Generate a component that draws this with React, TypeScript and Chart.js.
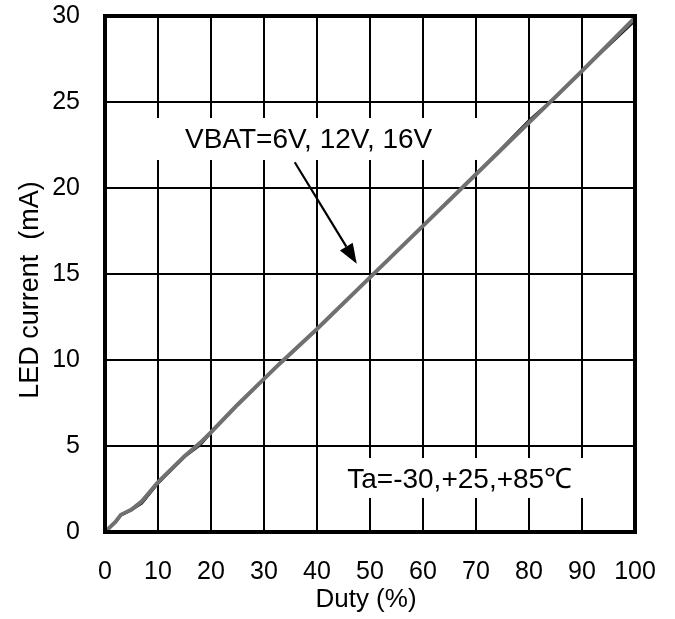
import { useEffect, useRef } from 'react';
import { Chart, registerables } from 'chart.js';

Chart.register(...registerables);

// ---- data ----
const duty = [0, 2, 3, 5, 7, 10, 15, 18, 20, 25, 30, 33, 40, 50, 60, 70, 80, 85, 90, 100];
const led6V = [0, 0.55, 0.95, 1.25, 1.65, 2.8, 4.35, 5.05, 5.75, 7.35, 8.9, 9.8, 11.8, 14.8, 17.8, 20.8, 23.95, 25.3, 26.8, 29.7];
const led12V = [0, 0.6, 1.0, 1.3, 1.7, 2.85, 4.4, 5.1, 5.8, 7.4, 8.9, 9.75, 11.8, 14.8, 17.8, 20.8, 23.9, 25.25, 26.8, 29.8];
const led16V = [0, 0.6, 1.0, 1.3, 1.8, 2.9, 4.4, 5.2, 5.8, 7.4, 8.9, 9.8, 11.8, 14.8, 17.8, 20.8, 23.8, 25.3, 26.8, 29.9];
const xTicks = [0, 10, 20, 30, 40, 50, 60, 70, 80, 90, 100];
const yTicks = [0, 5, 10, 15, 20, 25, 30];
const seriesNames = ['VBAT=6V', 'VBAT=12V', 'VBAT=16V'];
const annotVbat = 'VBAT=6V, 12V, 16V';
const annotTa = 'Ta=-30,+25,+85\u2103';
const xTitle = 'Duty (%)';
const yTitle = 'LED current  (mA)';

const FONT = '"Liberation Sans", Arial, sans-serif';

const toPts = (ys: number[]) => duty.map((d, i) => ({ x: d, y: ys[i] }));

const decor = {
  id: 'decor',
  beforeDatasetsDraw(chart: any) {
    const { ctx, scales } = chart;
    const x = scales.x;
    const y = scales.y;
    const px = (v: number) => x.getPixelForValue(v);
    const py = (v: number) => y.getPixelForValue(v);
    ctx.save();
    ctx.fillStyle = '#fff';
    const box = (x0: number, x1: number, y0: number, y1: number) => {
      ctx.fillRect(px(x0), py(y0), px(x1) - px(x0), py(y1) - py(y0));
    };
    box(8, 71, 24.07, 21.63);
    box(44, 94, 4.3, 1.98);
    ctx.restore();
  },
  afterDatasetsDraw(chart: any) {
    const { ctx, chartArea: a, scales } = chart;
    const x = scales.x;
    const y = scales.y;
    const px = (v: number) => x.getPixelForValue(v);
    const py = (v: number) => y.getPixelForValue(v);
    ctx.save();
    ctx.fillStyle = '#000';
    ctx.font = `28px ${FONT}`;
    ctx.textAlign = 'left';
    ctx.textBaseline = 'alphabetic';
    ctx.fillText(annotVbat, px(15.1), py(22.3));
    ctx.fillText(annotTa, px(45.7), py(2.56));

    // arrow
    const sx = px(35.8), sy = py(21.5);
    const tx = px(47.5), ty = py(15.6);
    const ang = Math.atan2(ty - sy, tx - sx);
    const hl = 20, hw = 7.5;
    const bx = tx - hl * Math.cos(ang), by = ty - hl * Math.sin(ang);
    ctx.strokeStyle = '#000';
    ctx.lineWidth = 2.2;
    ctx.beginPath();
    ctx.moveTo(sx, sy);
    ctx.lineTo(bx, by);
    ctx.stroke();
    ctx.beginPath();
    ctx.moveTo(tx, ty);
    ctx.lineTo(bx + hw * Math.sin(ang), by - hw * Math.cos(ang));
    ctx.lineTo(bx - hw * Math.sin(ang), by + hw * Math.cos(ang));
    ctx.closePath();
    ctx.fill();

    // frame
    ctx.lineWidth = 4;
    ctx.strokeRect(a.left, a.top, a.right - a.left, a.bottom - a.top);

    // axis titles
    ctx.font = `26px ${FONT}`;
    ctx.textAlign = 'center';
    ctx.fillText(xTitle, (a.left + a.right) / 2 - 4, 607);
    ctx.save();
    ctx.translate(38, 290);
    ctx.rotate(-Math.PI / 2);
    ctx.font = `27px ${FONT}`;
    ctx.fillText(yTitle, 0, 0);
    ctx.restore();
    ctx.restore();
  },
};

export default function App() {
  const ref = useRef<HTMLCanvasElement>(null);
  useEffect(() => {
    if (!ref.current) return;
    const chart = new Chart(ref.current, {
      type: 'line',
      data: {
        datasets: [
          { label: seriesNames[2], data: toPts(led16V), borderColor: '#707070', borderWidth: 4, pointRadius: 0, tension: 0, order: 0 },
          { label: seriesNames[1], data: toPts(led12V), borderColor: '#333333', borderWidth: 2, pointRadius: 0, tension: 0, order: 1 },
          { label: seriesNames[0], data: toPts(led6V), borderColor: '#1a1a1a', borderWidth: 2, pointRadius: 0, tension: 0, order: 2 },
        ],
      },
      options: {
        responsive: false,
        animation: false,
        devicePixelRatio: 1,
        layout: { padding: { top: 16, right: 40, left: 0, bottom: 0 } },
        plugins: { legend: { display: false }, tooltip: { enabled: false } },
        scales: {
          x: {
            type: 'linear',
            min: 0,
            max: 100,
            afterBuildTicks: (s: any) => { s.ticks = xTicks.map((v) => ({ value: v })); },
            afterFit: (s: any) => { s.height = 87; },
            grid: { color: '#000', lineWidth: 2, drawTicks: true, tickLength: 25, tickColor: 'rgba(0,0,0,0)' },
            border: { display: false },
            ticks: { color: '#000', font: { family: FONT, size: 25 }, padding: 0, maxRotation: 0, autoSkip: false },
          },
          y: {
            type: 'linear',
            min: 0,
            max: 30,
            afterBuildTicks: (s: any) => { s.ticks = yTicks.map((v) => ({ value: v })); },
            afterFit: (s: any) => { s.width = 105; },
            grid: { color: '#000', lineWidth: 2, drawTicks: true, tickLength: 25, tickColor: 'rgba(0,0,0,0)' },
            border: { display: false },
            ticks: { color: '#000', font: { family: FONT, size: 25 }, padding: 0 },
          },
        },
      },
      plugins: [decor],
    });
    return () => chart.destroy();
  }, []);
  return (
    <div style={{ position: 'fixed', left: 0, top: 0, width: 675, height: 619, background: '#fff' }}>
      <canvas ref={ref} width={675} height={619} />
    </div>
  );
}
